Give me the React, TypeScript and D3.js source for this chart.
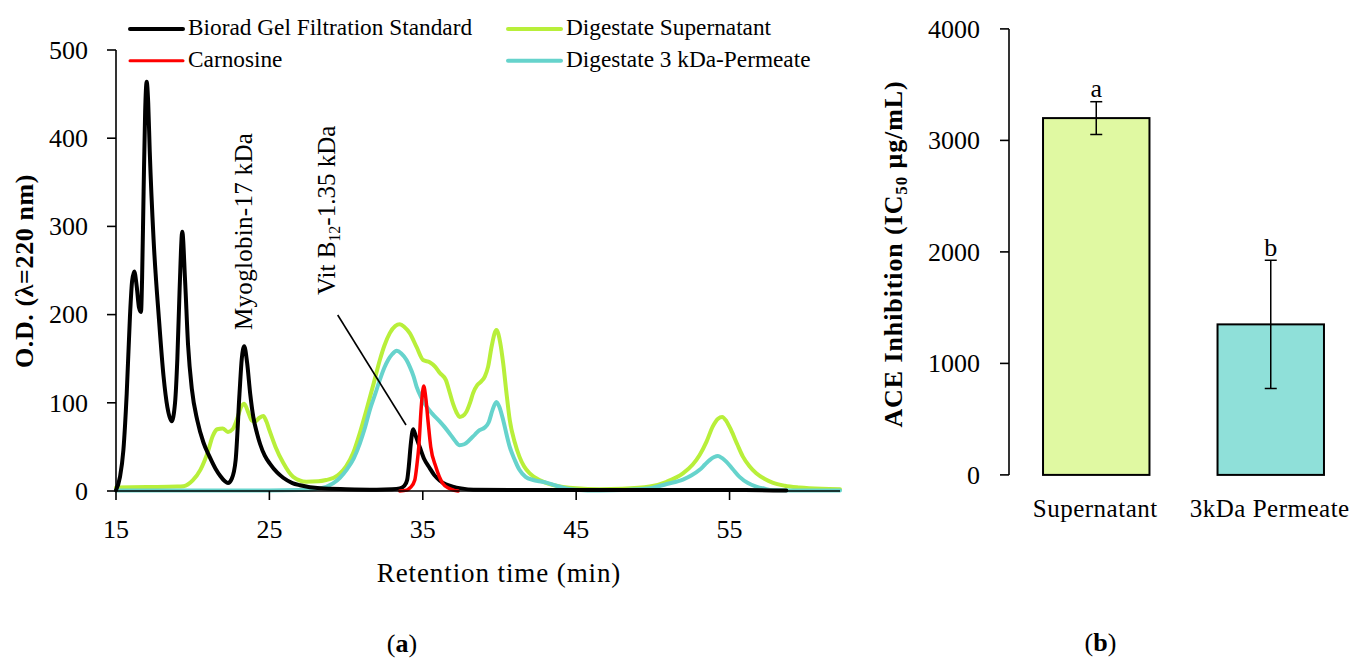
import React from "react";
import * as d3 from "d3";

// ---------- data ----------
const bioradSeries: [number, number][] = [
  [15.0, 1], [15.26, 16], [15.48, 46], [15.7, 111], [15.91, 198], [16.05, 238], [16.19, 249],
  [16.35, 232], [16.5, 208], [16.63, 203], [16.7, 240], [16.8, 340], [16.9, 430], [17.0, 464],
  [17.1, 440], [17.2, 385], [17.45, 285], [17.8, 195], [18.1, 130], [18.35, 95], [18.63, 79],
  [18.85, 100], [19.0, 150], [19.15, 230], [19.32, 294], [19.5, 240], [19.7, 165], [19.95, 115],
  [20.3, 80], [20.7, 55], [21.1, 39], [21.5, 25], [21.8, 17], [22.1, 11], [22.3, 9], [22.55, 14],
  [22.8, 35], [23.05, 110], [23.2, 150], [23.36, 164], [23.55, 145], [23.75, 110], [23.95, 84],
  [24.2, 65], [24.4, 53], [24.7, 40], [25.03, 31], [25.5, 21], [25.9, 15], [26.5, 9], [27.0, 6.5],
  [28.3, 3], [30.0, 2], [32.0, 1.5], [33.0, 2], [33.5, 3], [33.8, 6], [33.98, 12.5], [34.1, 30],
  [34.2, 50], [34.37, 70], [34.55, 62], [34.8, 50], [35.1, 36], [35.45, 26], [35.75, 18],
  [36.1, 12], [36.5, 7.5], [36.95, 5], [37.5, 3], [38.3, 1.5], [42, 1], [47, 1], [52, 1],
  [56, 1], [58.7, 0.5],
];

const carnosineSeries: [number, number][] = [
  [33.5, 0], [33.95, 1], [34.2, 4], [34.48, 12.5], [34.62, 30], [34.74, 50], [34.9, 95],
  [35.06, 119], [35.2, 105], [35.35, 78], [35.52, 50], [35.85, 27.5], [36.3, 8.7], [36.7, 3],
  [37.0, 1], [37.3, 0],
];

const supernatantSeries: [number, number][] = [
  [15, 4], [17, 4.5], [19, 5], [19.4, 5.5], [20, 12], [20.5, 24], [21, 45], [21.3, 62],
  [21.6, 70], [21.95, 71], [22.3, 67], [22.6, 70], [22.9, 82], [23.15, 95], [23.36, 99],
  [23.6, 90], [23.85, 80], [24.05, 78.6], [24.35, 83], [24.6, 85], [24.8, 79], [25, 69],
  [25.4, 50], [25.9, 32], [26.55, 16], [27.4, 10.5], [28.2, 11], [28.7, 12.5], [29.2, 15],
  [29.6, 20], [30, 28], [30.46, 43], [30.9, 66], [31.33, 92], [31.8, 122], [32.2, 148.5],
  [32.5, 165], [32.85, 179], [33.2, 187], [33.5, 189], [33.8, 186], [34.15, 179], [34.6, 163],
  [35.02, 148.5], [35.45, 146], [35.8, 141], [36.1, 134], [36.5, 126], [36.75, 112], [36.97, 99],
  [37.2, 89], [37.4, 84], [37.6, 85], [37.85, 90], [38.1, 101], [38.28, 111], [38.55, 120],
  [38.8, 124], [39.05, 130], [39.26, 141], [39.5, 165], [39.8, 182.5], [40.05, 168], [40.24, 145],
  [40.45, 112], [40.67, 80.5], [41, 55], [41.3, 39], [41.6, 28], [41.97, 20], [42.6, 12.5],
  [43.5, 6.8], [45, 3], [46.5, 2], [48, 2.5], [49.8, 5], [50.9, 10.5], [51.96, 20], [52.6, 30],
  [53.05, 40.8], [53.5, 56], [53.9, 73], [54.25, 82], [54.52, 84], [54.8, 79], [55.1, 69],
  [55.5, 53], [55.87, 39], [56.3, 28], [56.74, 20], [57.3, 13.5], [57.8, 9.5], [58.6, 6],
  [59.56, 4], [61, 2.5], [62.2, 2],
];

const permeateSeries: [number, number][] = [
  [15, 0.5], [20, 0.5], [25, 0.5], [27, 1], [28.3, 3], [29.15, 8.7], [29.6, 15], [30.03, 24],
  [30.5, 37], [30.9, 54], [31.2, 70], [31.55, 92], [31.9, 110], [32.2, 126], [32.5, 140],
  [32.74, 148.5], [33.0, 155], [33.3, 159], [33.6, 156], [33.94, 148.5], [34.15, 141],
  [34.4, 130], [34.6, 118], [34.9, 106], [35.24, 96], [35.6, 88], [36.1, 79], [36.4, 73],
  [36.76, 65], [37.1, 57], [37.4, 52], [37.7, 53], [38.06, 58], [38.4, 64], [38.7, 69],
  [39.04, 72], [39.3, 78], [39.55, 92], [39.8, 101], [40.0, 95], [40.24, 80.5], [40.45, 65],
  [40.67, 50], [41.0, 35], [41.3, 24], [41.7, 16], [42.2, 12.5], [42.6, 11], [43.06, 9.5],
  [43.7, 6], [44.36, 3], [45, 1.5], [46.5, 0.5], [48, 1], [49.8, 3], [50.9, 8], [51.96, 13],
  [52.5, 17.5], [53.05, 24], [53.4, 30], [53.7, 35], [54.0, 38.5], [54.24, 39.7], [54.5, 37.5],
  [54.8, 33], [55.2, 25], [55.65, 16], [56.2, 9], [56.74, 5], [57.3, 2.5], [57.8, 1], [59, 0.5],
  [62.2, 0.5],
];

const xTicksA = [15, 25, 35, 45, 55];
const yTicksA = [0, 100, 200, 300, 400, 500];

const barCategories = ["Supernatant", "3kDa Permeate"];
const barValues = [3200, 1350];
const barErrors = [147, 575];
const barLetters = ["a", "b"];
const yTicksB = [0, 1000, 2000, 3000, 4000];

// ---------- styling ----------
const FONT = "'Liberation Serif', 'Times New Roman', serif";
const C_BLACK = "#000000";
const C_RED = "#ff0000";
const C_GREEN = "#b8ef3a";
const C_CYAN = "#66d3cc";
const C_BAR1 = "#e0f9a2";
const C_BAR2 = "#8fe0d9";

const seriesList = [
  { name: "Biorad Gel Filtration Standard", data: bioradSeries, color: C_BLACK, width: 4 },
  { name: "Carnosine", data: carnosineSeries, color: C_RED, width: 3.5 },
  { name: "Digestate Supernatant", data: supernatantSeries, color: C_GREEN, width: 4 },
  { name: "Digestate 3 kDa-Permeate", data: permeateSeries, color: C_CYAN, width: 4 },
];
const drawOrder = [2, 3, 0, 1];

export default function App() {
  const x = d3.scaleLinear().domain([15, 62.2]).range([116, 840]);
  const y = d3.scaleLinear().domain([0, 500]).range([491, 50]);
  const line = d3
    .line<[number, number]>()
    .x((d) => x(d[0]))
    .y((d) => y(d[1]))
    .curve(d3.curveMonotoneX);

  const xb = d3
    .scaleBand<string>()
    .domain(barCategories)
    .range([1009, 1358])
    .paddingInner(0.39)
    .paddingOuter(0.195);
  const yb = d3.scaleLinear().domain([0, 4000]).range([474.9, 28.9]);

  const legendPos = [
    { lx: 130, ly: 29 },
    { lx: 130, ly: 60.7 },
    { lx: 508, ly: 29 },
    { lx: 508, ly: 60.7 },
  ];

  return (
    <svg
      width={1353}
      height={658}
      style={{ position: "absolute", left: 0, top: 0, display: "block", background: "#fff" }}
      fontFamily={FONT}
    >
      <rect x={0} y={0} width={1353} height={658} fill="#fff" />

      {/* ===== Panel (a) ===== */}
      {drawOrder.map((i) => {
        const s = seriesList[i];
        return (
          <path
            key={s.name}
            d={line(s.data) || ""}
            fill="none"
            stroke={s.color}
            strokeWidth={s.width}
            strokeLinejoin="round"
            strokeLinecap="round"
          />
        );
      })}

      <line x1={x(15)} x2={x(62.2)} y1={y(0)} y2={y(0)} stroke="#000" strokeWidth={1.6} />
      <line x1={x(15)} x2={x(15)} y1={y(0)} y2={y(500)} stroke="#000" strokeWidth={1.6} />
      {xTicksA.map((t) => (
        <g key={"xt" + t}>
          <line x1={x(t)} x2={x(t)} y1={y(0)} y2={y(0) + 9} stroke="#000" strokeWidth={1.6} />
          <text x={x(t)} y={538} fontSize={26} textAnchor="middle" fill="#000">
            {t}
          </text>
        </g>
      ))}
      {yTicksA.map((v) => (
        <g key={"yt" + v}>
          <line x1={x(15) - 9} x2={x(15)} y1={y(v)} y2={y(v)} stroke="#000" strokeWidth={1.6} />
          <text x={88} y={y(v)} dy="0.34em" fontSize={26} textAnchor="end" fill="#000">
            {v}
          </text>
        </g>
      ))}
      <text x={499} y={582} fontSize={27} letterSpacing={0.9} textAnchor="middle" fill="#000">
        Retention time (min)
      </text>
      <text
        transform="translate(33,271) rotate(-90)"
        fontSize={26}
        fontWeight="bold"
        letterSpacing={0.6}
        textAnchor="middle"
        fill="#000"
      >
        O.D. (λ=220 nm)
      </text>

      <text transform="translate(252,330) rotate(-90)" fontSize={25} letterSpacing={0.3} fill="#000">
        Myoglobin-17 kDa
      </text>
      <text transform="translate(335,295) rotate(-90)" fontSize={25} fill="#000">
        Vit B
        <tspan fontSize={16} dy={5}>
          12
        </tspan>
        <tspan dy={-5}>-1.35 kDa</tspan>
      </text>
      <line x1={337.7} y1={315} x2={406} y2={425} stroke="#000" strokeWidth={1.6} />

      {seriesList.map((s, i) => {
        const p = legendPos[i];
        return (
          <g key={"lg" + i}>
            <line
              x1={p.lx}
              x2={p.lx + 53}
              y1={p.ly}
              y2={p.ly}
              stroke={s.color}
              strokeWidth={i === 1 ? 3 : 4}
              strokeLinecap="round"
            />
            <text x={p.lx + 58} y={p.ly + 6} fontSize={23.3} fill="#000">
              {s.name}
            </text>
          </g>
        );
      })}

      <text x={402} y={651.5} fontSize={26} textAnchor="middle" fill="#000">
        (<tspan fontWeight="bold">a</tspan>)
      </text>

      {/* ===== Panel (b) ===== */}
      {barCategories.map((c, i) => {
        const bx = xb(c) as number;
        const bw = xb.bandwidth();
        const cx = bx + bw / 2;
        const v = barValues[i];
        const e = barErrors[i];
        return (
          <g key={"bar" + c}>
            <rect
              x={bx}
              y={yb(v)}
              width={bw}
              height={yb(0) - yb(v)}
              fill={i === 0 ? C_BAR1 : C_BAR2}
              stroke="#000"
              strokeWidth={2}
            />
            <line x1={cx} x2={cx} y1={yb(v + e)} y2={yb(v - e)} stroke="#000" strokeWidth={1.5} />
            <line x1={cx - 6} x2={cx + 6} y1={yb(v + e)} y2={yb(v + e)} stroke="#000" strokeWidth={1.5} />
            <line x1={cx - 6} x2={cx + 6} y1={yb(v - e)} y2={yb(v - e)} stroke="#000" strokeWidth={1.5} />
            <text x={cx} y={yb(v + e) - 4.5} fontSize={26} textAnchor="middle" fill="#000">
              {barLetters[i]}
            </text>
            <text x={cx - 1} y={516.5} fontSize={25} letterSpacing={0.5} textAnchor="middle" fill="#000">
              {c}
            </text>
          </g>
        );
      })}
      <line x1={1009} x2={1009} y1={yb(0)} y2={yb(4000)} stroke="#000" strokeWidth={1.6} />
      {yTicksB.map((v) => (
        <g key={"ybt" + v}>
          <line x1={1000} x2={1009} y1={yb(v)} y2={yb(v)} stroke="#000" strokeWidth={1.6} />
          <text x={980} y={yb(v)} dy="0.34em" fontSize={26} textAnchor="end" fill="#000">
            {v}
          </text>
        </g>
      ))}
      <text
        transform="translate(902,254) rotate(-90)"
        fontSize={26}
        fontWeight="bold"
        letterSpacing={0.9}
        textAnchor="middle"
        fill="#000"
      >
        ACE Inhibition (IC
        <tspan fontSize={17} dy={5}>
          50
        </tspan>
        <tspan dy={-5}> μg/mL)</tspan>
      </text>

      <text x={1100.5} y={651} fontSize={26} textAnchor="middle" fill="#000">
        (<tspan fontWeight="bold">b</tspan>)
      </text>
    </svg>
  );
}
